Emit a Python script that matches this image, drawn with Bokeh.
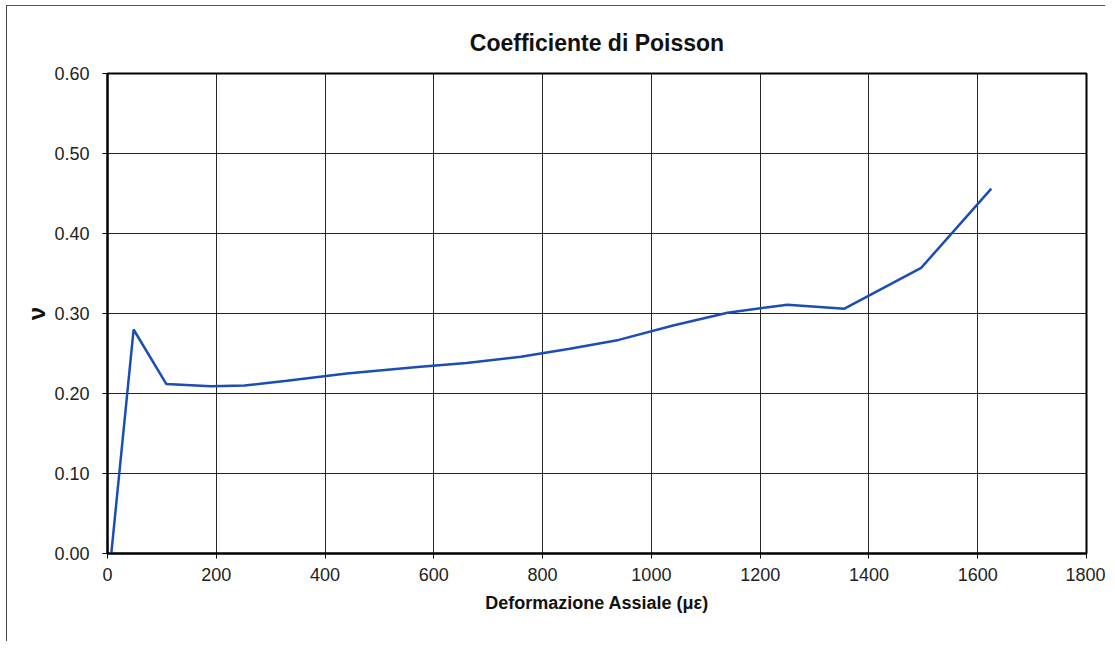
from bokeh.plotting import figure
from bokeh.models import Range1d, FixedTicker, NumeralTickFormatter
from bokeh.embed import file_html
from bokeh.resources import INLINE

# Data
strain = [7, 48, 108, 190, 252, 330, 440, 570, 660, 760, 850, 940, 1040, 1140, 1250, 1355, 1496, 1625]
poisson = [0.0, 0.280, 0.212, 0.209, 0.210, 0.216, 0.225, 0.233, 0.238, 0.246, 0.256, 0.267, 0.285, 0.301, 0.311, 0.306, 0.357, 0.456]

x_ticks = [0, 200, 400, 600, 800, 1000, 1200, 1400, 1600, 1800]
y_ticks = [0.0, 0.1, 0.2, 0.3, 0.4, 0.5, 0.6]

FONT = "Liberation Sans"

p = figure(width=1099, height=636, output_backend="svg", toolbar_location=None,
           x_range=Range1d(0, 1800), y_range=Range1d(0, 0.6),
           min_border_left=100, min_border_right=20, min_border_top=67, min_border_bottom=89,
           title="Coefficiente di Poisson")
p.styles = {"margin-left": "6px", "margin-top": "5px",
            "border-left": "1.5px solid #444", "border-top": "1.5px solid #555"}

p.title.align = "center"
p.title.text_font = FONT
p.title.text_font_size = "23px"
p.title.text_font_style = "bold"
p.title.text_color = "#111111"
p.title.standoff = 36

p.line(strain, poisson, line_color="#1c4cb5", line_width=2.5)

p.xaxis.ticker = FixedTicker(ticks=x_ticks)
p.yaxis.ticker = FixedTicker(ticks=y_ticks)
p.yaxis.formatter = NumeralTickFormatter(format="0.00")

for ax in (p.xaxis, p.yaxis):
    ax.axis_line_color = "black"
    ax.axis_line_width = 2
    ax.major_tick_line_color = "black"
    ax.major_tick_in = 0
    ax.major_tick_out = 5
    ax.minor_tick_line_color = None
    ax.major_label_text_font = FONT
    ax.major_label_text_font_size = "18px"
    ax.major_label_text_color = "#222222"
    ax.axis_label_text_font = FONT
    ax.axis_label_text_font_style = "bold"
    ax.axis_label_text_color = "#111111"

p.xaxis.axis_label = "Deformazione Assiale (με)"
p.xaxis.axis_label_text_font_size = "18px"
p.xaxis.major_label_standoff = 9
p.xaxis.axis_label_standoff = 9

p.yaxis.axis_label = "ν"
p.yaxis.axis_label_text_font_size = "24px"
p.yaxis.major_label_standoff = 13
p.yaxis.axis_label_standoff = 1

p.grid.grid_line_color = "black"
p.grid.grid_line_alpha = 0.85
p.grid.grid_line_width = 1
p.xgrid.ticker = FixedTicker(ticks=x_ticks)
p.ygrid.ticker = FixedTicker(ticks=y_ticks)

p.outline_line_color = "black"
p.outline_line_width = 2
p.outline_line_alpha = 1

open("out.html", "w").write(file_html(p, INLINE))
